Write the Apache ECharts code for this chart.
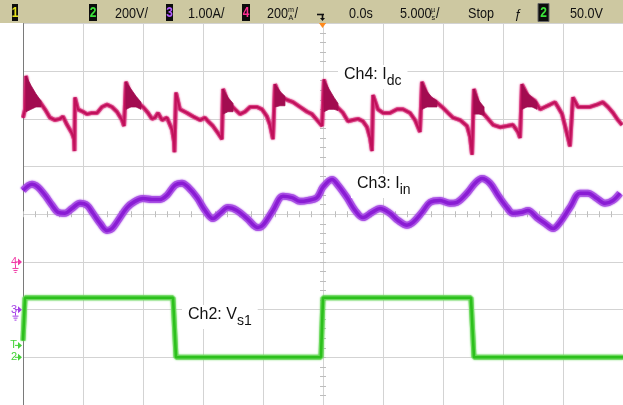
<!DOCTYPE html>
<html>
<head>
<meta charset="utf-8">
<script src="https://cdn.jsdelivr.net/npm/echarts@6/dist/echarts.min.js"></script>
<style>
  html, body { margin: 0; padding: 0; background: #ffffff; }
  #scope { width: 623px; height: 405px; }
</style>
</head>
<body>
<div id="scope"></div>
<script>
// Time base: 5 µs/div, trigger at the screen centre (t = 0)
const timeTicks = [-25, -20, -15, -10, -5, 0, 5, 10, 15, 20, 25];

// Ch4: DC-link current Idc (mA)
const ch4Time = [
  -25, -24.83, -24.75, -24.58, -24.33, -24, -23.58, -23.17, -22.75, -22.33, -21.92, -21.67, -21.33, -20.92, -20.75, -20.71,
  -20.67, -20.42, -20, -19.67, -19.25, -18.83, -18.42, -18, -17.58, -17.17, -16.75, -16.58,
  -16.42, -16.08, -15.5, -15, -14.58, -14.25, -14, -13.75, -13.42, -13, -12.58, -12.42, -12.38,
  -12.25, -11.92, -11.33, -10.83, -10.25, -9.83, -9.58, -9.17, -8.75, -8.42,
  -8.33, -7.92, -7.33, -6.92, -6.5, -6.08, -5.5, -5.08, -4.67, -4.42, -4.17,
  -4, -3.58, -3, -2.5, -1.92, -1.33, -0.92, -0.5, -0.08,
  0.08, 0.58, 1.17, 1.67, 2.08, 2.5, 2.92, 3.33, 3.67, 3.92, 4.08,
  4.17, 4.58, 5, 5.58, 6.17, 6.67, 7.25, 7.67, 8.08,
  8.25, 8.75, 9.33, 9.92, 10.42, 10.83, 11.42, 12, 12.25, 12.42,
  12.58, 13.08, 13.67, 14.17, 14.75, 15.33, 15.83, 16.25, 16.42,
  16.58, 17.08, 17.67, 18.08, 18.5, 18.92, 19.33, 19.58, 19.92, 20.17, 20.42, 20.58,
  20.83, 21.25, 21.67, 22.25, 22.83, 23.33, 23.75, 24.17, 24.58, 24.92
];
const ch4Current = [
  605, 640, 780, 730, 700, 685, 670, 640, 605, 595, 600, 610, 575, 540, 515, 465,
  690, 640, 630, 620, 625, 625, 650, 660, 650, 630, 595, 570,
  755, 710, 670, 650, 625, 600, 605, 625, 595, 605, 555, 505, 460,
  710, 640, 625, 610, 595, 605, 590, 570, 540, 515,
  725, 670, 640, 620, 630, 650, 650, 640, 610, 575, 515,
  745, 695, 680, 670, 650, 630, 620, 595, 570,
  765, 680, 650, 625, 590, 595, 600, 590, 565, 520, 465,
  700, 640, 625, 625, 640, 640, 625, 595, 545,
  755, 690, 675, 650, 625, 605, 595, 570, 525, 450,
  725, 640, 605, 575, 565, 570, 575, 545, 520,
  745, 695, 675, 640, 650, 660, 670, 650, 620, 570, 520, 485,
  690, 650, 650, 650, 660, 670, 650, 625, 595, 575
];

// Ch4 ringing after each switching edge: envelope (min / max, mA) of the oscillation
const ch4RingBurst = [1, 1, 1, 1, 2, 2, 2, 2, 3, 3, 3, 4, 4, 4, 5, 5, 5, 5, 6, 6, 6, 6, 7, 7, 7, 8, 8, 8, 8];
const ch4RingTime = [
  -24.75, -24.33, -23.92, -23.5,
  -16.42, -16, -15.58, -15.17,
  -8.33, -7.92, -7.5,
  -4, -3.58, -3.17,
  0.08, 0.5, 0.92, 1.25,
  8.25, 8.67, 9.08, 9.5,
  12.58, 13, 13.42,
  16.58, 17, 17.42, 17.83
];
const ch4RingLow = [
  630, 640, 650, 650,
  640, 650, 650, 640,
  620, 630, 630,
  650, 655, 655,
  630, 640, 640, 635,
  640, 650, 650, 650,
  620, 620, 615,
  640, 650, 650, 640
];
const ch4RingHigh = [
  780, 740, 705, 675,
  755, 725, 695, 670,
  725, 690, 665,
  745, 715, 695,
  765, 725, 690, 665,
  755, 715, 690, 675,
  725, 675, 650,
  745, 710, 690, 670
];

// Ch3: input current Iin (A)
const ch3Time = [
  -25, -24.25, -23.75, -23.17, -22.58, -22.08, -21.5, -20.92, -20.25, -19.67, -19.17, -18.58, -18,
  -17.58, -17.08, -16.33, -15.67, -15, -14.25, -13.58, -13, -12.33, -11.75, -11.25, -10.5, -9.83,
  -9.17, -8.58, -7.92, -7.17, -6.33, -5.42, -5, -4.17, -3.33, -2.58, -1.92, -1.25, -0.5,
  0, 0.75, 1.25, 2, 2.67, 3.33, 4.08, 4.75, 5.58, 6.25, 7, 7.5, 8.25,
  8.92, 9.75, 10.58, 11.17, 12, 12.67, 13.25, 13.92, 14.58, 15.33, 15.83, 16.58,
  17.08, 17.83, 18.5, 19.17, 19.75, 20.58, 21.42, 22.08, 22.83, 23.5, 24.17, 24.75
];
const ch3Current = [
  2.50, 2.63, 2.57, 2.40, 2.19, 2.04, 2.02, 2.12, 2.23, 2.19, 2.02, 1.81, 1.66,
  1.70, 1.87, 2.14, 2.27, 2.33, 2.31, 2.31, 2.40, 2.61, 2.65, 2.57, 2.35, 2.08,
  1.91, 2.02, 2.14, 2.08, 1.91, 1.72, 1.77, 2.08, 2.38, 2.35, 2.27, 2.29, 2.35,
  2.57, 2.73, 2.61, 2.35, 2.08, 1.93, 2.04, 2.12, 2.02, 1.87, 1.77, 1.83, 2.04,
  2.25, 2.29, 2.23, 2.25, 2.44, 2.65, 2.75, 2.65, 2.40, 2.14, 2.02, 2.04,
  2.08, 1.93, 1.81, 1.70, 1.83, 2.14, 2.44, 2.44, 2.33, 2.23, 2.29, 2.44
];

// Ch2: switch voltage Vs1 (V)
const ch2Time = [-25, -24.83, -12.5, -12.25, -0.17, 0, 12.33, 12.58, 25];
const ch2Voltage = [70, 250, 250, 0, 0, 250, 250, 0, 0];

// Vertical settings: units per division and ground-marker level (div from centre)
const ch2Scale = 200, ch2Ref = -3;   // 200 V/div
const ch3Scale = 1.0, ch3Ref = -2;   // 1.00 A/div
const ch4Scale = 200, ch4Ref = -1;   // 200 mA/div
const triggerLevel = 50;             // V on Ch2

const GRID = '#d3d3d3';
const BAR_FONT = "'Liberation Sans',Arial,sans-serif";
const BAR_SQUEEZE = 0.9;             // condensed look of the status-bar lettering
const LABEL_FONT = "'Liberation Sans',Arial,sans-serif";

const toDiv = (times, values, scale, ref) => times.map((t, i) => [t, values[i] / scale + ref]);

const chart = echarts.init(document.getElementById('scope'), null, { renderer: 'canvas' });

const hiddenAxisBits = { axisLabel: { show: false }, splitLine: { show: false } };
const centreTick = { show: true, length: 3, lineStyle: { color: '#bdbdbd', width: 1 } };

// A noisy trace: a soft-edged band underneath a solid core stroke.
function trace(name, data, core, band, coreWidth, bandWidth, smooth) {
  return [
    { name: name + ' band', type: 'line', data: data, showSymbol: false, smooth: smooth, z: 3,
      lineStyle: { color: band, width: bandWidth, shadowColor: band, shadowBlur: 2 } },
    { name: name, type: 'line', data: data, showSymbol: false, smooth: smooth, z: 4,
      lineStyle: { color: core, width: coreWidth } }
  ];
}

// Ringing envelope rows: [burst, t, low (div), high (div)]
const ringRows = ch4RingTime.map((t, i) => [
  ch4RingBurst[i], t, ch4RingLow[i] / ch4Scale + ch4Ref, ch4RingHigh[i] / ch4Scale + ch4Ref
]);

// Each burst is drawn as one closed shape: upper edge forward, lower edge back.
const ringSeries = {
  name: 'Ch4 ringing', type: 'custom', z: 5, clip: true,
  data: ringRows,
  encode: { x: 1, y: [2, 3] },
  renderItem: function (params, api) {
    const i = params.dataIndex;
    const row = ringRows[i];
    if (i > 0 && ringRows[i - 1][0] === row[0]) return null;
    const burst = ringRows.filter(r => r[0] === row[0]);
    const upper = burst.map(r => api.coord([r[1], r[3]]));
    const lower = burst.slice().reverse().map(r => api.coord([r[1], r[2]]));
    return {
      type: 'polygon', shape: { points: upper.concat(lower) },
      style: { fill: '#a20c50', stroke: '#a20c50', lineWidth: 0.8 }
    };
  }
};

chart.setOption({
  animation: false,
  backgroundColor: '#ffffff',
  grid: { left: 23, right: 0, top: 23.5, bottom: 0, containLabel: false },
  xAxis: [
    {
      type: 'value', min: timeTicks[0], max: timeTicks[timeTicks.length - 1], interval: 5,
      axisLine: { show: false, onZero: false }, axisTick: { show: false }, axisLabel: { show: false },
      splitLine: { show: true, lineStyle: { color: GRID, width: 1 } }
    },
    Object.assign({
      type: 'value', min: -25, max: 25, interval: 5, position: 'bottom',
      axisLine: { show: false, onZero: true },
      axisTick: centreTick, minorTick: Object.assign({ splitNumber: 5 }, centreTick)
    }, hiddenAxisBits),
    Object.assign({
      type: 'value', min: -25, max: 25, interval: 5, position: 'top',
      axisLine: { show: false, onZero: true },
      axisTick: centreTick, minorTick: Object.assign({ splitNumber: 5 }, centreTick)
    }, hiddenAxisBits)
  ],
  yAxis: [
    {
      type: 'value', min: -4, max: 4, interval: 1, position: 'left',
      axisLine: { show: true, onZero: false, lineStyle: { color: '#7a7a7a', width: 1 } },
      axisTick: { show: false }, axisLabel: { show: false },
      splitLine: { show: true, lineStyle: { color: GRID, width: 1 } }
    },
    Object.assign({
      type: 'value', min: -4, max: 4, interval: 1, position: 'left',
      axisLine: { show: false, onZero: true },
      axisTick: centreTick, minorTick: Object.assign({ splitNumber: 5 }, centreTick)
    }, hiddenAxisBits),
    Object.assign({
      type: 'value', min: -4, max: 4, interval: 1, position: 'right',
      axisLine: { show: false, onZero: true },
      axisTick: centreTick, minorTick: Object.assign({ splitNumber: 5 }, centreTick)
    }, hiddenAxisBits)
  ],
  series: [
    ...trace('Ch2', toDiv(ch2Time, ch2Voltage, ch2Scale, ch2Ref), '#2cc01c', '#6ad85c', 2.6, 5, false),
    ...trace('Ch3', toDiv(ch3Time, ch3Current, ch3Scale, ch3Ref), '#8a1cd4', '#a950e4', 3.5, 7, 0.35),
    ...trace('Ch4', toDiv(ch4Time, ch4Current, ch4Scale, ch4Ref), '#c0105a', '#d83a80', 2, 4, false),
    ringSeries
  ]
});

// --- Screen furniture: status bar, channel markers, trace labels ---
const px = (t, v) => chart.convertToPixel({ xAxisIndex: 0, yAxisIndex: 0 }, [t, v]);
const yOf = v => px(0, v)[1];
const x0 = px(0, 0)[0];
const leftX = px(-25, 0)[0];

function barText(text, x, size, y) {
  return {
    type: 'text', x: x, y: y === undefined ? 14 : y, z: 102, scaleX: BAR_SQUEEZE,
    style: { text: text, fill: '#111', font: (size || 14) + 'px ' + BAR_FONT, verticalAlign: 'middle', align: 'left' }
  };
}
function chanBox(num, x, w, color) {
  return [
    { type: 'rect', shape: { x: x, y: 4, width: w, height: 17 }, style: { fill: '#0c0c0c' }, z: 101 },
    { type: 'text', x: x + w / 2, y: 13, z: 102, scaleX: 0.85,
      style: { text: num, fill: color, font: 'bold 14px ' + BAR_FONT, align: 'center', verticalAlign: 'middle' } }
  ];
}
function marker(label, y, color, withGround) {
  const els = [
    { type: 'text', x: leftX - 6, y: y, z: 50,
      style: { text: label, fill: color, font: '11px ' + LABEL_FONT, align: 'right', verticalAlign: 'middle' } },
    { type: 'polygon', z: 50, shape: { points: [[leftX - 5, y - 3.5], [leftX - 1, y], [leftX - 5, y + 3.5]] }, style: { fill: color } },
    { type: 'line', z: 50, shape: { x1: leftX - 8, y1: y, x2: leftX - 4, y2: y }, style: { stroke: color, lineWidth: 1 } }
  ];
  if (withGround) {
    const gx = leftX - 7.5;
    els.push(
      { type: 'line', z: 50, shape: { x1: gx, y1: y + 3, x2: gx, y2: y + 6 }, style: { stroke: color, lineWidth: 1 } },
      { type: 'line', z: 50, shape: { x1: gx - 3, y1: y + 6.5, x2: gx + 3, y2: y + 6.5 }, style: { stroke: color, lineWidth: 1 } },
      { type: 'line', z: 50, shape: { x1: gx - 2, y1: y + 8.5, x2: gx + 2, y2: y + 8.5 }, style: { stroke: color, lineWidth: 1 } },
      { type: 'line', z: 50, shape: { x1: gx - 1, y1: y + 10.5, x2: gx + 1, y2: y + 10.5 }, style: { stroke: color, lineWidth: 1 } }
    );
  }
  return els;
}
function traceLabel(main, sub, x, y) {
  return {
    type: 'text', left: x, top: y, z: 60,
    style: {
      text: '{m|' + main + '}{s|' + sub + '}',
      backgroundColor: '#ffffff', padding: [1, 6, 1, 6],
      rich: {
        m: { fontSize: 16, fontFamily: LABEL_FONT, fill: '#111', lineHeight: 22, verticalAlign: 'top', padding: [1, 0, 0, 0] },
        s: { fontSize: 14, fontFamily: LABEL_FONT, fill: '#111', lineHeight: 22, verticalAlign: 'bottom' }
      }
    }
  };
}

const graphics = [
  { type: 'rect', shape: { x: 0, y: 0, width: 623, height: 23 }, style: { fill: '#cdc8a1' }, z: 100 },
  ...chanBox('1', 12, 6, '#e4e21c'),
  ...chanBox('2', 89, 8, '#3ce23a'),
  barText('200V/', 115),
  ...chanBox('3', 166, 7, '#b25cff'),
  barText('1.00A/', 188),
  ...chanBox('4', 242, 8, '#ff2f93'),
  barText('200', 267),
  barText('m', 288, 8, 9.5),
  barText('A', 288.5, 8, 17.5),
  barText('/', 294.5),
  // trigger time reference
  { type: 'line', z: 102, shape: { x1: x0 - 6, y1: 14.5, x2: x0 + 1, y2: 14.5 }, style: { stroke: '#111', lineWidth: 1.6 } },
  { type: 'line', z: 102, shape: { x1: x0 - 0.5, y1: 14.5, x2: x0 - 0.5, y2: 19 }, style: { stroke: '#111', lineWidth: 1.6 } },
  { type: 'polygon', z: 102, shape: { points: [[x0 - 3, 18], [x0 + 2, 18], [x0 - 0.5, 21]] }, style: { fill: '#111' } },
  { type: 'polygon', z: 102, shape: { points: [[x0 - 4, 23], [x0 + 3, 23], [x0 - 0.5, 28]] }, style: { fill: '#ff8a1c' } },
  barText('0.0s', 349),
  barText('5.000', 400),
  barText('µ', 431, 8, 9.5),
  barText('s', 431.5, 8, 17.5),
  barText('/', 436),
  barText('Stop', 468),
  { type: 'text', x: 514, y: 14, z: 102,
    style: { text: 'ƒ', fill: '#111', font: 'italic 13px ' + LABEL_FONT, verticalAlign: 'middle' } },
  { type: 'rect', shape: { x: 538, y: 3.5, width: 11, height: 18 }, style: { fill: '#0c0c0c', stroke: '#666', lineWidth: 1 }, z: 101 },
  { type: 'text', x: 543.5, y: 13, z: 102, scaleX: 0.85,
    style: { text: '2', fill: '#3ce23a', font: 'bold 14px ' + BAR_FONT, align: 'center', verticalAlign: 'middle' } },
  barText('50.0V', 570),
  // channel ground markers and trigger level
  ...marker('4', yOf(ch4Ref), '#f03aa6', true),
  ...marker('3', yOf(ch3Ref), '#a43ee6', true),
  ...marker('T', yOf(ch2Ref + triggerLevel / ch2Scale), '#46d23a', false),
  ...marker('2', yOf(ch2Ref), '#46d23a', false),
  // trace labels
  traceLabel('Ch4: I', 'dc', 338, 65),
  traceLabel('Ch3: I', 'in', 351, 174),
  traceLabel('Ch2: V', 's1', 182, 305)
];

chart.setOption({ graphic: { elements: graphics } });
</script>
</body>
</html>
